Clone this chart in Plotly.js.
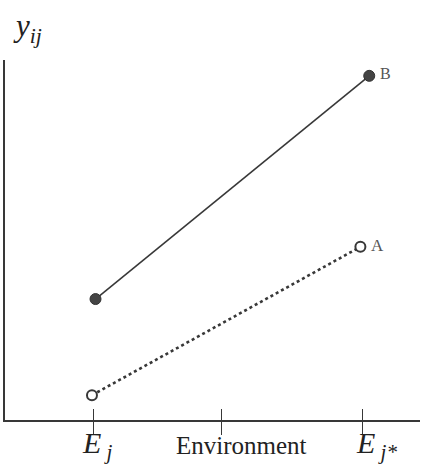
<!DOCTYPE html>
<html>
<head>
<meta charset="utf-8">
<script src="https://cdn.plot.ly/plotly-3.0.1.min.js"></script>
<style>html,body{margin:0;padding:0;background:#fff;}#chart{width:438px;height:476px;}</style>
</head>
<body>
<div id="chart"></div>
<script>
// Data (x in environment units, y in response units)
var tickVals = [2.0, 4.9, 8.1];
var tickLabels = ['<i>E</i><sub><i> j</i></sub>', 'Environment', '<i>E</i><sub><i> j*</i></sub>'];
var labelShift = [4, 20, 14];
var seriesB_x = [2.05, 8.25];
var seriesB_y = [3.36, 9.56];
var seriesA_x = [1.97, 8.05];
var seriesA_y = [0.69, 4.81];
var seriesNames = ['B', 'A'];

var ink = '#383838';
var serif = 'Liberation Serif, Times New Roman, serif';
var traces = [
  {x: seriesB_x, y: seriesB_y, mode: 'lines+markers', type: 'scatter',
   line: {color: ink, width: 1.6},
   marker: {size: 11, color: '#444', symbol: 'circle', line: {color: '#333', width: 1}}},
  {x: seriesA_x, y: seriesA_y, mode: 'lines+markers', type: 'scatter',
   line: {color: ink, width: 2.6, dash: 'dot'},
   marker: {size: 10, color: '#fff', symbol: 'circle', line: {color: ink, width: 2}}},
  {x: [], y: [], xaxis: 'x2', yaxis: 'y', type: 'scatter'}
];

var annotations = [];
for (var i = 0; i < tickVals.length; i++) {
  annotations.push({x: tickVals[i], y: 0, xref: 'x', yref: 'paper', yanchor: 'top', yshift: i === 1 ? -10 : -4,
    xshift: labelShift[i], showarrow: false, text: tickLabels[i],
    font: {family: serif, size: i === 1 ? 25 : 30, color: '#222'}});
}
annotations.push({x: seriesB_x[1], y: seriesB_y[1], xref: 'x', yref: 'y', xanchor: 'left', xshift: 9, yshift: 2,
  showarrow: false, text: seriesNames[0], font: {family: serif, size: 16, color: '#555'}});
annotations.push({x: seriesA_x[1], y: seriesA_y[1], xref: 'x', yref: 'y', xanchor: 'left', xshift: 9, yshift: 1,
  showarrow: false, text: seriesNames[1], font: {family: serif, size: 17, color: '#555'}});
annotations.push({x: 0, y: 1, xref: 'paper', yref: 'paper', xanchor: 'left', yanchor: 'bottom', xshift: 6, yshift: 10,
  showarrow: false, text: '<i>y</i><sub><i>ij</i></sub>', font: {family: serif, size: 31, color: '#222'}});

var layout = {
  width: 438, height: 476,
  margin: {l: 5, r: 18, t: 60, b: 56},
  paper_bgcolor: '#fff', plot_bgcolor: '#fff',
  showlegend: false,
  xaxis: {range: [0, 9.4], showgrid: false, zeroline: false, showline: true, linecolor: ink, linewidth: 1.6,
    tickvals: tickVals, ticks: 'outside', ticklen: 13, tickwidth: 1.6, tickcolor: ink, showticklabels: false, fixedrange: true},
  xaxis2: {range: [0, 9.4], overlaying: 'x', side: 'bottom', showgrid: false, zeroline: false, showline: false,
    tickvals: tickVals, ticks: 'inside', ticklen: 11, tickwidth: 1.6, tickcolor: ink, showticklabels: false},
  yaxis: {range: [0, 10], showgrid: false, zeroline: false, showline: true, linecolor: ink, linewidth: 1.6,
    ticks: '', showticklabels: false, fixedrange: true},
  annotations: annotations
};
Plotly.newPlot('chart', traces, layout, {staticPlot: true, displayModeBar: false});
</script>
</body>
</html>
